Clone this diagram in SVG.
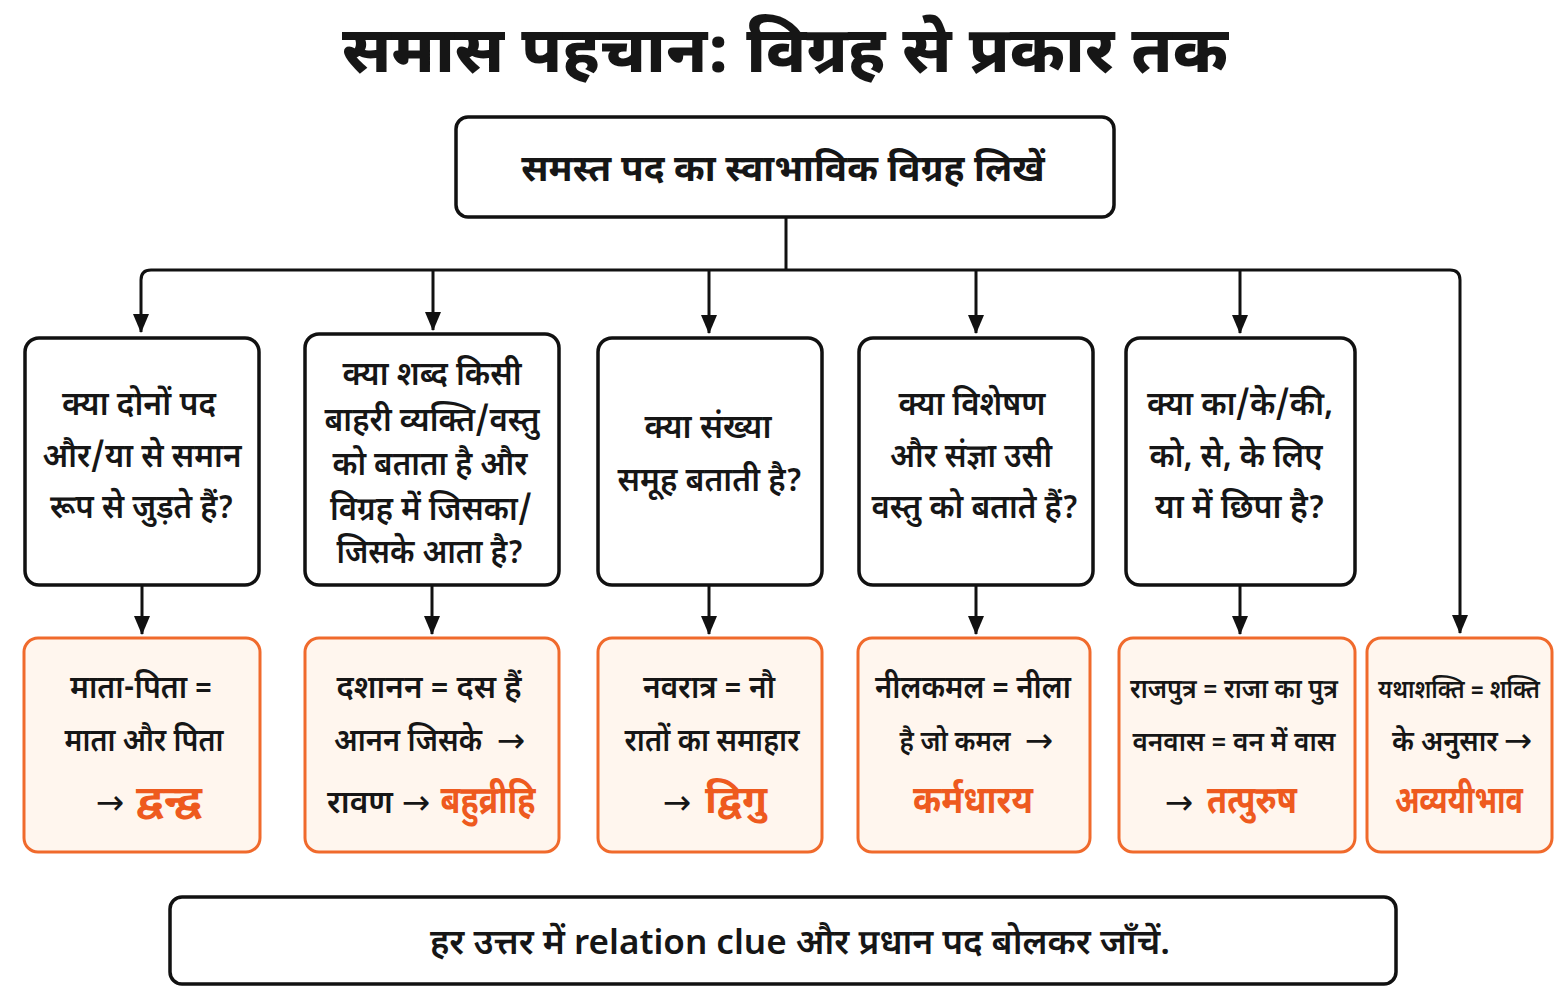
<svg xmlns="http://www.w3.org/2000/svg" width="1562" height="1007" viewBox="0 0 1562 1007">
<defs>
<marker id="ah" markerUnits="userSpaceOnUse" markerWidth="20" markerHeight="20" viewBox="0 0 20 20" refX="18" refY="10" orient="auto-start-reverse">
<path d="M0,2 L19,10 L0,18 Z" fill="#111"/>
</marker>
<style>
text{font-family:"Noto Sans Devanagari","Noto Sans","Liberation Sans",sans-serif;text-anchor:middle;fill:#161616}
.q{font-size:33px;font-weight:600}
.r{font-size:32px;font-weight:600}
.n{font-size:27px}
.s{font-size:29px}
.o{fill:#EE5A1E;font-size:38px;font-weight:700}
.ar{font-family:"DejaVu Sans",sans-serif;font-weight:400;font-size:34px}
.title{font-size:64px;font-weight:800}
.top{font-size:37px;font-weight:700}
.note{font-size:35px;font-weight:600}
.qb{fill:#fff;stroke:#111;stroke-width:3.5}
.rb{fill:#FFF6EE;stroke:#F06A2C;stroke-width:3}
.ln{fill:none;stroke:#111;stroke-width:3}
</style>
</defs>
<rect width="1562" height="1007" fill="#fff"/>
<text class="title" x="785" y="72" textLength="886" lengthAdjust="spacingAndGlyphs">समास पहचान: विग्रह से प्रकार तक</text>

<g id="connectors">
<path class="ln" d="M786,217 V270"/>
<path class="ln" d="M141,332 V280 Q141,270 151,270 H1450 Q1460,270 1460,280 V633" marker-start="url(#ah)" marker-end="url(#ah)"/>
<path class="ln" d="M433,270 V330" marker-end="url(#ah)"/>
<path class="ln" d="M709,270 V333" marker-end="url(#ah)"/>
<path class="ln" d="M976,270 V333" marker-end="url(#ah)"/>
<path class="ln" d="M1240,270 V333" marker-end="url(#ah)"/>
<path class="ln" d="M142,585 V634" marker-end="url(#ah)"/>
<path class="ln" d="M432,585 V634" marker-end="url(#ah)"/>
<path class="ln" d="M709,585 V634" marker-end="url(#ah)"/>
<path class="ln" d="M976,585 V634" marker-end="url(#ah)"/>
<path class="ln" d="M1240,585 V634" marker-end="url(#ah)"/>
</g>

<g id="start">
<rect class="qb" x="456" y="117" width="658" height="100" rx="12"/>
<text class="top" x="783" y="181">समस्त पद का स्वाभाविक विग्रह लिखें</text>
</g>

<g id="q1">
<rect class="qb" x="25" y="338" width="234" height="247" rx="14"/>
<text class="q" x="139" y="415" textLength="154" lengthAdjust="spacingAndGlyphs">क्या दोनों पद</text>
<text class="q" x="142" y="467" textLength="199" lengthAdjust="spacingAndGlyphs">और/या से समान</text>
<text class="q" x="142" y="518" textLength="184" lengthAdjust="spacingAndGlyphs">रूप से जुड़ते हैं?</text>
</g>
<g id="q2">
<rect class="qb" x="305" y="334" width="254" height="251" rx="14"/>
<text class="q" x="432" y="385" textLength="179" lengthAdjust="spacingAndGlyphs">क्या शब्द किसी</text>
<text class="q" x="432" y="431" textLength="215" lengthAdjust="spacingAndGlyphs">बाहरी व्यक्ति/वस्तु</text>
<text class="q" x="430" y="475" textLength="195" lengthAdjust="spacingAndGlyphs">को बताता है और</text>
<text class="q" x="431" y="520" textLength="202" lengthAdjust="spacingAndGlyphs">विग्रह में जिसका/</text>
<text class="q" x="430" y="563" textLength="187" lengthAdjust="spacingAndGlyphs">जिसके आता है?</text>
</g>
<g id="q3">
<rect class="qb" x="598" y="338" width="224" height="247" rx="14"/>
<text class="q" x="708" y="438" textLength="127" lengthAdjust="spacingAndGlyphs">क्या संख्या</text>
<text class="q" x="710" y="491" textLength="185" lengthAdjust="spacingAndGlyphs">समूह बताती है?</text>
</g>
<g id="q4">
<rect class="qb" x="859" y="338" width="234" height="247" rx="14"/>
<text class="q" x="972" y="415" textLength="147" lengthAdjust="spacingAndGlyphs">क्या विशेषण</text>
<text class="q" x="971" y="467" textLength="162" lengthAdjust="spacingAndGlyphs">और संज्ञा उसी</text>
<text class="q" x="975" y="518" textLength="207" lengthAdjust="spacingAndGlyphs">वस्तु को बताते हैं?</text>
</g>
<g id="q5">
<rect class="qb" x="1126" y="338" width="229" height="247" rx="14"/>
<text class="q" x="1240" y="415" textLength="186" lengthAdjust="spacingAndGlyphs">क्या का/के/की,</text>
<text class="q" x="1236" y="467" textLength="173" lengthAdjust="spacingAndGlyphs">को, से, के लिए</text>
<text class="q" x="1240" y="518" textLength="170" lengthAdjust="spacingAndGlyphs">या में छिपा है?</text>
</g>

<g id="r1">
<rect class="rb" x="24" y="638" width="236" height="214" rx="14"/>
<text class="r" x="141" y="698" textLength="142" lengthAdjust="spacingAndGlyphs">माता-पिता =</text>
<text class="r" x="144" y="751" textLength="159" lengthAdjust="spacingAndGlyphs">माता और पिता</text>
<text class="ar" x="110" y="814">→</text>
<text class="o" x="169" y="813" textLength="66" lengthAdjust="spacingAndGlyphs">द्वन्द्व</text>
</g>
<g id="r2">
<rect class="rb" x="305" y="638" width="254" height="214" rx="14"/>
<text class="r" x="429" y="698" textLength="185" lengthAdjust="spacingAndGlyphs">दशानन = दस हैं</text>
<text class="r" x="408" y="751" textLength="148" lengthAdjust="spacingAndGlyphs">आनन जिसके</text>
<text class="ar" x="511" y="752">→</text>
<text class="r" x="360" y="813" textLength="66" lengthAdjust="spacingAndGlyphs">रावण</text>
<text class="ar" x="416" y="814">→</text>
<text class="o" x="488" y="813" textLength="95" lengthAdjust="spacingAndGlyphs">बहुव्रीहि</text>
</g>
<g id="r3">
<rect class="rb" x="598" y="638" width="224" height="214" rx="14"/>
<text class="r" x="709" y="698" textLength="132" lengthAdjust="spacingAndGlyphs">नवरात्र = नौ</text>
<text class="r" x="712" y="751" textLength="175" lengthAdjust="spacingAndGlyphs">रातों का समाहार</text>
<text class="ar" x="677" y="814">→</text>
<text class="o" x="736" y="813" textLength="62" lengthAdjust="spacingAndGlyphs">द्विगु</text>
</g>
<g id="r4">
<rect class="rb" x="858" y="638" width="232" height="214" rx="14"/>
<text class="r" x="973" y="698" textLength="196" lengthAdjust="spacingAndGlyphs">नीलकमल = नीला</text>
<text class="r s" x="955" y="751" textLength="111" lengthAdjust="spacingAndGlyphs">है जो कमल</text>
<text class="ar" x="1039" y="752">→</text>
<text class="o" x="973" y="813" textLength="120" lengthAdjust="spacingAndGlyphs">कर्मधारय</text>
</g>
<g id="r5">
<rect class="rb" x="1119" y="638" width="236" height="214" rx="14"/>
<text class="r n" x="1234" y="698" textLength="208" lengthAdjust="spacingAndGlyphs">राजपुत्र = राजा का पुत्र</text>
<text class="r n" x="1234" y="751" textLength="203" lengthAdjust="spacingAndGlyphs">वनवास = वन में वास</text>
<text class="ar" x="1179" y="814">→</text>
<text class="o" x="1252" y="813" textLength="90" lengthAdjust="spacingAndGlyphs">तत्पुरुष</text>
</g>
<g id="r6">
<rect class="rb" x="1367" y="638" width="185" height="214" rx="14"/>
<text class="r" x="1459" y="698" style="font-size:25px" textLength="162" lengthAdjust="spacingAndGlyphs">यथाशक्ति = शक्ति</text>
<text class="r s" x="1445" y="751" textLength="106" lengthAdjust="spacingAndGlyphs">के अनुसार</text>
<text class="ar" x="1518" y="752">→</text>
<text class="o" x="1459" y="813" textLength="128" lengthAdjust="spacingAndGlyphs">अव्ययीभाव</text>
</g>

<g id="note">
<rect class="qb" x="170" y="897" width="1226" height="87" rx="12"/>
<text class="note" x="800" y="954" textLength="740" lengthAdjust="spacingAndGlyphs">हर उत्तर में relation clue और प्रधान पद बोलकर जाँचें.</text>
</g>
</svg>
